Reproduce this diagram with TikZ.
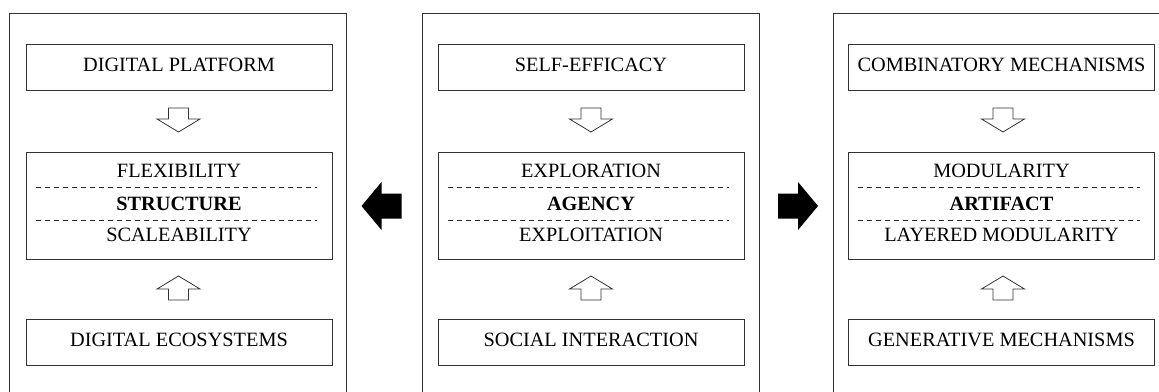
\documentclass[tikz,border=0pt]{standalone}
\usepackage{fontspec}
\setmainfont{Liberation Serif}
\usetikzlibrary{positioning}

\begin{document}
\begin{tikzpicture}[x=1pt, y=-1pt, line width=0.8pt, font=\fontsize{20.3}{24}\selectfont,
panel/.style={draw=black!80, minimum width=337pt, minimum height=420pt, anchor=north},
box/.style={draw=black!80, minimum width=306pt, minimum height=46pt, inner sep=0pt, text height=13.5pt, text depth=5.5pt},
core/.style={draw=black!80, minimum width=306pt, minimum height=107pt, inner sep=0pt},
word/.style={anchor=base, inner sep=0pt},
divider/.style={draw=black!85, dash pattern=on 5pt off 4pt, line width=0.7pt},
hollowarrow/.pic={\draw[draw=black!80, fill=white] (-10,-12) -- (10,-12) -- (10,-1) -- (21.5,-1) -- (0,12) -- (-21.5,-1) -- (-10,-1) -- cycle;},
blackarrow/.pic={\fill[black] (20,-12.5) -- (0,-12.5) -- (0,-24) -- (-20,0) -- (0,24) -- (0,12.5) -- (20,12.5) -- cycle;}]
\useasboundingbox (0,0) rectangle (1159,391);
\clip (0,0) rectangle (1159,391);

% structure
\node[panel] (lpanel) at (178,13) {};
\node[box] (lplatform) at (179,67.5) {DIGITAL PLATFORM};
\node[core, below=61pt of lplatform] (lstructure) {};
\node[box, below=59pt of lstructure] (lecosystems) {DIGITAL ECOSYSTEMS};
\node[word] (lflex) at ([yshift=-26pt]lstructure.north) {FLEXIBILITY};
\node[word] (lstruct) at ([yshift=-59pt]lstructure.north) {\bfseries STRUCTURE};
\node[word] (lscale) at ([yshift=-90pt]lstructure.north) {SCALEABILITY};
\draw[divider] ([xshift=10pt,yshift=-35pt]lstructure.north west) -- ([xshift=-15pt,yshift=-35pt]lstructure.north east);
\draw[divider] ([xshift=10pt,yshift=-68pt]lstructure.north west) -- ([xshift=-15pt,yshift=-68pt]lstructure.north east);
\pic at (178.5,120) {hollowarrow};
\pic[rotate=180] at (178.5,288) {hollowarrow};

% agency
\node[panel] (mpanel) at (590.5,13) {};
\node[box] (mefficacy) at (591,67.5) {SELF-EFFICACY};
\node[core, below=61pt of mefficacy] (magency) {};
\node[box, below=59pt of magency] (minteraction) {SOCIAL INTERACTION};
\node[word] (mexplore) at ([yshift=-26pt]magency.north) {EXPLORATION};
\node[word] (magent) at ([yshift=-59pt]magency.north) {\bfseries AGENCY};
\node[word] (mexploit) at ([yshift=-90pt]magency.north) {EXPLOITATION};
\draw[divider] ([xshift=10pt,yshift=-35pt]magency.north west) -- ([xshift=-15pt,yshift=-35pt]magency.north east);
\draw[divider] ([xshift=10pt,yshift=-68pt]magency.north west) -- ([xshift=-15pt,yshift=-68pt]magency.north east);
\pic at (591,120) {hollowarrow};
\pic[rotate=180] at (591,288) {hollowarrow};

% artifact
\node[panel] (rpanel) at (1001.5,13) {};
\node[box] (rcombinatory) at (1001.5,67.5) {COMBINATORY MECHANISMS};
\node[core, below=61pt of rcombinatory] (rartifact) {};
\node[box, below=59pt of rartifact] (rgenerative) {GENERATIVE MECHANISMS};
\node[word] (rmodular) at ([yshift=-26pt]rartifact.north) {MODULARITY};
\node[word] (rart) at ([yshift=-59pt]rartifact.north) {\bfseries ARTIFACT};
\node[word] (rlayered) at ([yshift=-90pt]rartifact.north) {LAYERED MODULARITY};
\draw[divider] ([xshift=10pt,yshift=-35pt]rartifact.north west) -- ([xshift=-15pt,yshift=-35pt]rartifact.north east);
\draw[divider] ([xshift=10pt,yshift=-68pt]rartifact.north west) -- ([xshift=-15pt,yshift=-68pt]rartifact.north east);
\pic at (1003,120) {hollowarrow};
\pic[rotate=180] at (1003,288) {hollowarrow};

% between panels
\pic at (381.5,206) {blackarrow};
\pic[rotate=180] at (798,206) {blackarrow};

\end{tikzpicture}
\end{document}
